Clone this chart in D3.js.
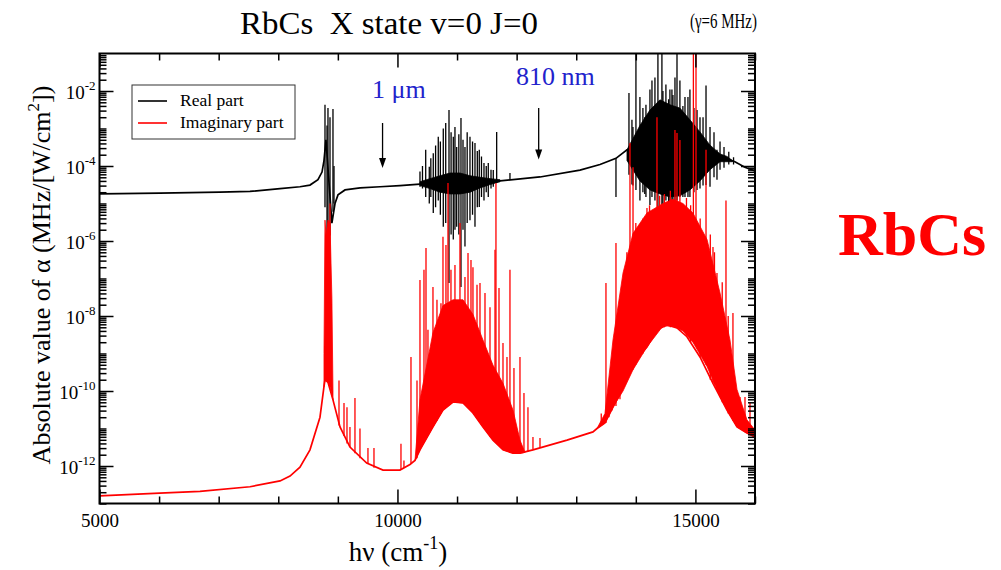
<!DOCTYPE html>
<html>
<head>
<meta charset="utf-8">
<script src="https://cdn.jsdelivr.net/npm/d3@7"></script>
<style>
  body { margin: 0; background: #fff; }
  text { font-family: "Liberation Serif", "Times New Roman", serif; }
</style>
</head>
<body>
<div id="graph"></div>
<script>
// hv in cm-1, |alpha| in MHz/(W/cm2)
// smooth part of the real part
var realCurve = [[5000,1.8e-5],[6010,1.9e-5],[7020,2.0e-5],[7525,2.1e-5],[8030,2.5e-5],
  [8364,2.8e-5],[8532,3.1e-5],[8666,4.3e-5],[8734,6.9e-5],[8767,1.4e-4],[8800,5e-4],
  [8900,3e-6],[8952,1.0e-5],[9002,1.7e-5],[9120,2.3e-5],[9373,2.6e-5],[9707,2.8e-5],
  [10042,3.0e-5],[10378,3.3e-5],[11050,3.5e-5],[11721,4.0e-5],[12392,5.1e-5],[13063,7.8e-5],
  [13399,1.1e-4],[13667,1.6e-4],[13852,2.7e-4],[14500,5.0e-4],[15462,1.7e-4],[15663,1.3e-4],
  [15830,9.3e-5],[16000,7.4e-5]];
// dense resonance regions of the real part: [hv, low, high]
var realBands = [
  [[10378,3.0e-5,3.8e-5],[10546,2.5e-5,4.6e-5],[10714,2.0e-5,5.5e-5],[10882,1.8e-5,6.5e-5],
   [11050,1.8e-5,6.5e-5],[11218,2.0e-5,5.5e-5],[11386,2.6e-5,5.0e-5],[11554,3.2e-5,4.6e-5],
   [11721,3.8e-5,4.3e-5]],
  [[13852,1.4e-4,2.7e-4],[14069,4.0e-5,1.2e-3],[14237,2.3e-5,3.1e-3],[14405,1.8e-5,5.8e-3],
   [14572,1.5e-5,4.3e-3],[14740,1.6e-5,3.5e-3],[14908,2.3e-5,1.7e-3],[15077,4.0e-5,8.1e-4],
   [15245,8.0e-5,3.6e-4],[15413,1.3e-4,2.1e-4],[15530,1.3e-4,1.8e-4],[15620,1.3e-4,1.4e-4]]
];
// single lines of the real part: [hv, low, high]
var realSpikes = [[8784,8.0e-6,4.3e-3],[8818,1.4e-6,1.2e-3],[8834,2.0e-6,3.5e-3],[8868,1.4e-6,2.0e-3],
  [8918,6.0e-6,3.3e-3],[8935,1.0e-5,1.0e-4],
  [10378,2.8e-5,7.1e-5],[10420,2.5e-5,1.0e-4],[10474,1.5e-5,2.7e-4],[10534,1.0e-5,9.5e-5],
  [10560,1.5e-5,1.6e-4],[10601,5.6e-6,2.2e-4],[10640,8.0e-6,3.5e-4],[10685,1.2e-5,6.0e-4],
  [10720,5.0e-6,4.5e-4],[10769,2.4e-6,1.0e-3],[10810,3.0e-6,1.4e-3],[10865,7.6e-8,3.1e-3],
  [10900,1.5e-6,8.0e-4],[10937,1.1e-6,6.0e-4],[10965,2.0e-6,1.1e-3],[10994,2.4e-6,3.2e-4],
  [11030,1.5e-6,7.0e-4],[11066,5.9e-8,1.9e-3],[11100,2.0e-6,5.0e-4],[11133,7.1e-7,3.2e-4],
  [11170,3.0e-6,8.0e-4],[11217,3.6e-6,6.0e-4],[11260,5.0e-6,4.5e-4],[11301,2.4e-6,4.1e-4],
  [11340,8.0e-6,2.5e-4],[11373,8.1e-6,2.7e-4],[11410,1.5e-5,1.8e-4],[11452,1.2e-5,1.2e-4],
  [11490,2.0e-5,1.0e-4],[11524,1.5e-5,1.2e-4],[11570,2.5e-5,8.0e-5],[11608,2.8e-5,7.8e-5],
  [11665,3.5e-5,8.1e-4],[11888,4.3e-5,6.5e-5],
  [13667,1.5e-5,1.6e-4],[13885,5.8e-5,8.9e-3],[13935,3.2e-5,1.7e-3],[13952,3.0e-5,1.1e-3],
  [14002,2.3e-5,0.2],[14069,1.2e-5,6.9e-3],[14119,2.0e-5,3.5e-3],[14150,1.8e-5,2.0e-3],
  [14170,1.5e-5,4.3e-3],[14237,9.1e-6,1.1e-2],[14271,1.5e-5,1.9e-2],[14321,1.2e-5,2.3e-2],
  [14371,6.8e-6,0.2],[14438,9.1e-6,0.2],[14455,6.8e-6,1.0e-2],[14505,1.2e-5,1.5e-2],
  [14550,1.0e-5,6.0e-3],[14572,1.0e-5,1.1e-2],[14606,1.2e-5,1.1e-2],[14623,8.1e-6,7.8e-3],
  [14657,1.0e-5,2.3e-2],[14691,1.2e-5,0.2],[14740,1.5e-5,1.9e-2],[14790,1.5e-5,4.0e-3],
  [14825,1.5e-5,6.9e-3],[14875,1.5e-5,6.9e-3],[14908,1.5e-5,1.1e-2],[14975,2.0e-5,3.5e-3],
  [15027,2.3e-5,3.1e-3],[15077,2.5e-5,2.0e-3],[15128,3.0e-5,2.0e-3],[15178,3.1e-5,1.4e-2],
  [15245,2.8e-5,1.1e-3],[15312,5.0e-5,8.0e-4],[15362,4.3e-5,2.7e-4],[15413,8.0e-5,4.5e-4],
  [15480,9.0e-5,3.2e-4],[15560,1.1e-4,2.4e-4],[15640,1.1e-4,1.7e-4]];

// smooth part of the imaginary part
var imagCurve = [[5000,1.6e-13],[6010,1.9e-13],[6686,2.1e-13],[7525,2.8e-13],[8030,4.0e-13],
  [8197,5.4e-13],[8364,9.3e-13],[8532,2.7e-12],[8700,2.0e-11],[8767,1.3e-10],[8784,2.0e-10],
  [8834,1.7e-10],[8918,5.8e-11],[9036,1.1e-11],[9203,3.2e-12],[9484,1.2e-12],[9757,7.8e-13],
  [10042,7.8e-13],[10210,1.1e-12],[10294,1.4e-12],[10378,2.7e-12],[10596,1.1e-11],[10764,3.1e-11],
  [10932,5.1e-11],[11100,4.8e-11],[11267,2.6e-11],[11435,1.1e-11],[11603,4.9e-12],[11771,2.7e-12],
  [11939,2.2e-12],[12056,2.2e-12],[12274,2.7e-12],[12845,4.9e-12],[13281,8.1e-12],[13348,1.0e-11],
  [13482,1.4e-11],[13617,3.7e-11],[13768,1.1e-10],[13902,3.0e-10],[14069,9.1e-10],[14187,1.5e-9],
  [14355,4.3e-9],[14523,5.8e-9],[14691,4.8e-9],[14858,2.8e-9],[15077,8.1e-10],[15295,1.6e-10],
  [15530,3.1e-11],[15698,1.1e-11],[15865,7.6e-12],[16000,5.9e-12]];
// dense resonance regions of the imaginary part: [hv, low, high]
var imagBands = [
  [[8767,1.3e-10,1.0e-9],[8784,2.0e-10,3.6e-6],[8801,2.0e-10,1.4e-6],[8834,1.7e-10,3.6e-6],
   [8868,1.3e-10,3.0e-6],[8900,8.0e-11,3.0e-8],[8918,5.8e-11,1.0e-10]],
  [[10294,1.4e-12,1.4e-12],[10378,2.7e-12,5.8e-11],[10596,1.1e-11,3.6e-9],[10764,3.1e-11,1.9e-8],
   [10932,5.1e-11,2.7e-8],[11100,4.8e-11,2.7e-8],[11267,2.6e-11,1.1e-8],[11435,1.1e-11,2.3e-9],
   [11603,4.9e-12,4.9e-10],[11771,2.7e-12,1.6e-10],[11939,2.2e-12,3.1e-11],[12056,2.2e-12,4.9e-12],
   [12140,2.3e-12,2.3e-12]],
  [[13348,1.0e-11,1.0e-11],[13482,1.4e-11,2.5e-11],[13617,3.7e-11,2.3e-9],[13785,1.0e-10,1.4e-7],
   [13953,3.7e-10,1.6e-6],[14187,1.5e-9,5.6e-6],[14455,5.4e-9,1.0e-5],[14623,5.4e-9,1.3e-5],
   [14791,4.0e-9,1.0e-5],[14958,2.0e-9,5.6e-6],[15195,4.5e-10,1.1e-6],[15413,7.0e-11,4.1e-8],
   [15580,2.3e-11,2.3e-9],[15698,1.1e-11,1.1e-10],[15865,7.6e-12,1.7e-11],[16000,5.9e-12,9.1e-12]]
];
// single lines of the imaginary part: [hv, low, high]
var imagSpikes = [[8868,1.3e-10,1.0e-5],
  [9019,1.2e-11,1.9e-10],[9103,6.3e-12,4.8e-11],[9153,4.0e-12,3.7e-11],[9203,3.2e-12,1.1e-11],
  [9287,2.2e-12,6.5e-11],[9371,1.6e-12,1.0e-11],[9505,1.2e-12,3.0e-12],[9606,9.0e-13,3.0e-12],
  [10059,8.0e-13,3.9e-12],[10109,9.0e-13,1.4e-12],
  [10227,1.2e-12,8.1e-10],[10328,1.6e-12,1.9e-10],[10378,2.7e-12,9.1e-8],[10445,4.5e-12,1.7e-7],
  [10479,5.5e-12,6.5e-7],[10512,7.0e-12,4.3e-9],[10596,1.1e-11,5.9e-8],[10663,1.6e-11,2.7e-8],
  [10730,2.5e-11,2.2e-8],[10764,3.1e-11,1.3e-6],[10814,3.6e-11,7.8e-7],[10848,4.0e-11,3.5e-5],
  [10898,5.0e-11,1.7e-7],[10965,5.0e-11,2.3e-7],[11049,5.0e-11,3.0e-6],[11133,4.5e-11,1.1e-7],
  [11184,4.0e-11,4.8e-7],[11234,3.0e-11,3.1e-7],[11267,2.6e-11,2.0e-7],[11335,1.8e-11,6.8e-8],
  [11385,1.4e-11,7.6e-8],[11469,1.0e-11,4.1e-8],[11553,6.0e-12,1.7e-8],[11637,4.5e-12,5.8e-7],
  [11653,4.3e-12,3.5e-5],[11704,3.5e-12,5.6e-8],[11771,2.7e-12,1.9e-9],[11838,2.5e-12,8.1e-10],
  [11888,2.3e-12,1.7e-7],[11955,2.2e-12,4.1e-10],[12056,2.2e-12,8.1e-10],[12123,2.3e-12,8.9e-11],
  [12190,2.4e-12,3.7e-11],[12274,2.7e-12,5.9e-12],[12392,3.0e-12,5.6e-12],
  [13420,1.2e-11,2.5e-11],[13499,1.4e-11,7.6e-8],[13550,2.0e-11,3.7e-11],[13600,3.0e-11,1.5e-10],
  [13667,4.0e-11,8.9e-7],[13734,6.0e-11,5.1e-9],[13850,3.0e-10,5.0e-7],[13902,3.0e-10,4.1e-4],
  [13953,3.7e-10,9.3e-5],[14000,5.0e-10,3.0e-6],[14069,9.1e-10,1.3e-6],[14120,1.0e-9,4.0e-6],
  [14187,1.5e-9,7.6e-6],[14230,2.0e-9,9.0e-6],[14271,2.5e-9,5.9e-6],[14355,4.3e-9,2.0e-3],
  [14400,5.0e-9,1.6e-5],[14480,5.0e-9,1.8e-5],[14523,5.8e-9,1.9e-6],[14580,5.0e-9,2.2e-5],
  [14657,5.0e-9,9.1e-4],[14691,4.8e-9,7.6e-4],[14740,4.5e-9,4.9e-4],[14850,3.0e-9,1.4e-5],
  [14920,2.0e-9,9.0e-6],[14966,2.0e-9,0.2],[15010,1.8e-9,0.2],[15080,8.0e-10,4.0e-6],
  [15178,5.0e-10,2.7e-4],[15250,2.0e-10,1.5e-6],[15295,1.6e-10,6.9e-7],[15320,1.5e-10,5.0e-7],
  [15362,1.0e-10,1.4e-7],[15450,5.0e-11,8.0e-8],[15513,3.5e-11,1.2e-5],[15550,2.5e-11,1.0e-8],
  [15630,1.6e-11,1.2e-8],[15748,1.0e-11,6.9e-11],[15832,8.0e-12,6.9e-11],[15916,7.0e-12,4.8e-11]];

var xMajorTicks = [5000, 10000, 15000];
var xMinorTicks = [6000, 7000, 8000, 9000, 11000, 12000, 13000, 14000, 16000];
var yMajorTicks = [1e-12, 1e-10, 1e-8, 1e-6, 1e-4, 1e-2];
var legendLabels = ["Real part", "Imaginary part"];
var seriesColors = ["#000000", "#ff0000"];
// arrows: [hv, from, to]
var arrows = [[9750, 1.4e-3, 8.9e-5], [12370, 3.5e-3, 1.5e-4]];

////////////////////////////////////////////////////////////////////////////////
const WIDTH = 1001, HEIGHT = 570;
const FONT = "'Liberation Serif', 'Times New Roman', serif";
var plot = { left: 99.5, right: 755, top: 53.5, bottom: 503.5 };

var x = d3.scaleLinear().domain([5000, 16000]).range([plot.left, plot.right]);
var y = d3.scaleLog().domain([1e-13, 1e-1]).range([plot.bottom, plot.top]);

var yMinorTicks = [];
for (var e = -13; e < -1; e++) {
  for (var k = 1; k < 10; k++) {
    var v = k * Math.pow(10, e);
    if (!(k == 1 && e % 2 == 0)) yMinorTicks.push(v);
  }
}

var svg = d3.select("#graph").append("svg")
  .attr("width", WIDTH).attr("height", HEIGHT);

svg.append("clipPath").attr("id", "clip").append("rect")
  .attr("x", plot.left).attr("y", plot.top)
  .attr("width", plot.right - plot.left).attr("height", plot.bottom - plot.top);

var data = svg.append("g").attr("clip-path", "url(#clip)");

var line = d3.line().x(function (d) { return x(d[0]); }).y(function (d) { return y(d[1]); });
var area = d3.area().x(function (d) { return x(d[0]); })
  .y0(function (d) { return y(d[1]); }).y1(function (d) { return y(d[2]); });

function drawSeries(curve, bands, spikes, color) {
  data.append("path").attr("d", line(curve))
    .attr("fill", "none").attr("stroke", color).attr("stroke-width", 1.7);
  bands.forEach(function (b) {
    data.append("path").attr("d", area(b)).attr("fill", color)
      .attr("stroke", color).attr("stroke-width", 0.8);
  });
  data.append("g").selectAll("line").data(spikes).enter().append("line")
    .attr("x1", function (d) { return x(d[0]); }).attr("x2", function (d) { return x(d[0]); })
    .attr("y1", function (d) { return y(d[1]); }).attr("y2", function (d) { return y(d[2]); })
    .attr("stroke", color).attr("stroke-width", 1.3);
}
drawSeries(realCurve, realBands, realSpikes, seriesColors[0]);
drawSeries(imagCurve, imagBands, imagSpikes, seriesColors[1]);

// axes with inward ticks
function addAxis(axis, tx, ty, values, size, fmt) {
  var g = svg.append("g").attr("transform", "translate(" + tx + "," + ty + ")")
    .call(axis.tickValues(values).tickSize(-size).tickPadding(10).tickFormat(fmt));
  g.select(".domain").remove();
  g.selectAll(".tick line").attr("stroke", "#000").attr("stroke-width", 1.5);
  return g;
}
var none = function () { return ""; };
var bx = addAxis(d3.axisBottom(x), 0, plot.bottom, xMajorTicks, 14, d3.format("d"));
bx.selectAll("text").attr("font-size", 19).attr("fill", "#000");
addAxis(d3.axisBottom(x), 0, plot.bottom, xMinorTicks, 7, none);
addAxis(d3.axisTop(x), 0, plot.top, xMajorTicks, 14, none);
addAxis(d3.axisTop(x), 0, plot.top, xMinorTicks, 7, none);
var ly = addAxis(d3.axisLeft(y), plot.left, 0, yMajorTicks, 14, none);
addAxis(d3.axisLeft(y), plot.left, 0, yMinorTicks, 7, none);
addAxis(d3.axisRight(y), plot.right, 0, yMajorTicks, 14, none);
addAxis(d3.axisRight(y), plot.right, 0, yMinorTicks, 7, none);

ly.selectAll(".tick text").each(function (d) {
  var t = d3.select(this).text(null)
    .attr("x", -4).attr("dy", null).attr("y", 7)
    .attr("font-size", 19).attr("fill", "#000");
  t.append("tspan").text("10");
  t.append("tspan").attr("dy", -9).attr("font-size", 13).text(Math.round(Math.log10(d)));
});

svg.append("rect").attr("x", plot.left).attr("y", plot.top)
  .attr("width", plot.right - plot.left).attr("height", plot.bottom - plot.top)
  .attr("fill", "none").attr("stroke", "#000").attr("stroke-width", 2);

// legend
var lg = svg.append("g");
lg.append("rect").attr("x", 132).attr("y", 85).attr("width", 163).attr("height", 54)
  .attr("fill", "#fff").attr("stroke", "#333").attr("stroke-width", 1);
legendLabels.forEach(function (s, i) {
  lg.append("line").attr("x1", 138).attr("x2", 167).attr("y1", 101 + i * 22).attr("y2", 101 + i * 22)
    .attr("stroke", seriesColors[i]).attr("stroke-width", 1.6);
  lg.append("text").attr("x", 180).attr("y", 106 + i * 22).attr("font-size", 17.5).text(s);
});

// arrows and wavelength marks
arrows.forEach(function (a) {
  var ax = x(a[0]), y0 = y(a[1]), y1 = y(a[2]);
  svg.append("line").attr("x1", ax).attr("x2", ax).attr("y1", y0).attr("y2", y1 - 8)
    .attr("stroke", "#000").attr("stroke-width", 1.3);
  svg.append("path").attr("d", "M" + (ax - 3.5) + "," + (y1 - 10) + "L" + ax + "," + y1 + "L" + (ax + 3.5) + "," + (y1 - 10) + "Z")
    .attr("fill", "#000");
});
svg.append("text").attr("x", 372).attr("y", 98).attr("font-size", 26).attr("fill", "#2222cc").text("1 μm");
svg.append("text").attr("x", 516).attr("y", 85).attr("font-size", 26).attr("fill", "#2222cc").text("810 nm");

// titles
svg.append("text").attr("x", 240).attr("y", 34).attr("font-size", 31)
  .attr("textLength", 298).attr("lengthAdjust", "spacingAndGlyphs")
  .style("white-space", "pre").text("RbCs  X state v=0 J=0");
svg.append("text").attr("x", 690).attr("y", 28).attr("font-size", 20)
  .attr("textLength", 67).attr("lengthAdjust", "spacingAndGlyphs").text("(γ=6 MHz)");

var yl = svg.append("text").attr("transform", "translate(50,275) rotate(-90)")
  .attr("text-anchor", "middle").attr("font-size", 26);
yl.append("tspan").text("Absolute value of α (MHz/[W/cm");
yl.append("tspan").attr("dy", -11).attr("font-size", 17).text("2");
yl.append("tspan").attr("dy", 11).text("])");

var xl = svg.append("text").attr("x", 398).attr("y", 561).attr("text-anchor", "middle").attr("font-size", 27);
xl.append("tspan").text("hν (cm");
xl.append("tspan").attr("dy", -12).attr("font-size", 18).text("-1");
xl.append("tspan").attr("dy", 12).text(")");

svg.append("text").attr("x", 838).attr("y", 255).attr("font-size", 62)
  .attr("font-weight", "bold").attr("fill", "#ff0000").text("RbCs");

svg.selectAll("text").style("font-family", FONT);
svg.selectAll("g").attr("font-family", null);
</script>
</body>
</html>
